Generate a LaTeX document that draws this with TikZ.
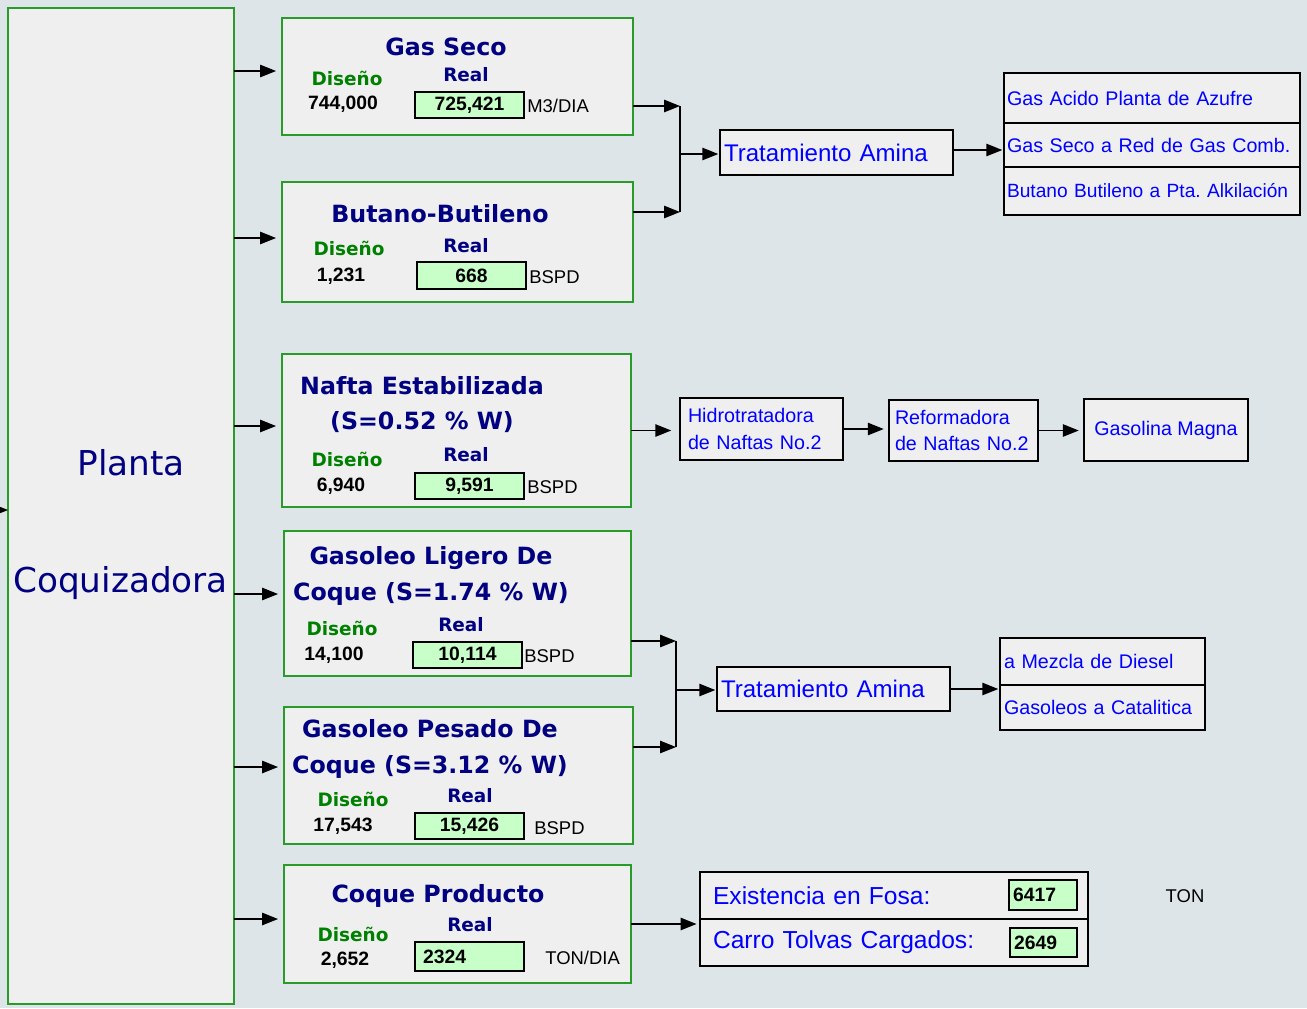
\documentclass[tikz,border=0pt]{standalone}
\usepackage{fontspec}
\setmainfont{DejaVu Sans}
\newfontfamily\arialfont{Liberation Sans}
\usetikzlibrary{arrows.meta}
\frenchspacing

\definecolor{bgcol}{RGB}{221,229,232}
\definecolor{boxgray}{RGB}{239,239,239}
\definecolor{boxgreen}{RGB}{40,155,40}
\definecolor{titlenavy}{RGB}{0,0,128}
\definecolor{labgreen}{RGB}{0,128,0}
\definecolor{valgreen}{RGB}{200,255,200}
\definecolor{linkblue}{RGB}{0,0,255}

\tikzset{
  plantbox/.style={draw=boxgreen,fill=boxgray,line width=1pt,inner sep=0pt,outer sep=0pt},
  valbox/.style={draw=black,fill=valgreen,line width=0.9pt,inner sep=0pt,minimum width=2.18cm,minimum height=0.52cm,font=\arialfont\bfseries\fontsize{11}{13}\selectfont},
  procbox/.style={draw=black,fill=boxgray,line width=0.8pt,inner ysep=0pt,inner xsep=0.08cm,outer sep=0pt,align=left,text=linkblue,font=\arialfont\fontsize{11.2}{15}\selectfont},
  prodtitle/.style={text=titlenavy,font=\bfseries\fontsize{13.5}{20}\selectfont,align=center,inner sep=0pt},
  dislbl/.style={text=labgreen,font=\bfseries\fontsize{10.5}{12}\selectfont,inner sep=0pt},
  reallbl/.style={text=titlenavy,font=\bfseries\fontsize{10.5}{12}\selectfont,inner sep=0pt},
  numlbl/.style={font=\arialfont\bfseries\fontsize{11}{13}\selectfont,inner sep=0pt},
  unitlbl/.style={anchor=west,font=\arialfont\fontsize{10.5}{12}\selectfont,inner sep=0pt},
  flow/.style={-{Triangle[length=9pt,width=7pt]},line width=0.8pt},
}

\begin{document}
\begin{tikzpicture}[x=0.02cm,y=-0.02cm]
% canvas
\fill[bgcol] (0,0) rectangle (1307,1008);
\useasboundingbox (0,0) rectangle (1307,1008);

% coker unit
\node[plantbox,minimum width=4.52cm,minimum height=19.92cm] (planta) at (121,506) {};
\node[text=titlenavy,font=\fontsize{19.5}{23}\selectfont,inner sep=0pt] (pl1) at (131,463) {Planta};
\node[text=titlenavy,font=\fontsize{19.5}{23}\selectfont,inner sep=0pt] (pl2) at (120.5,583) {Coquizadora};
\coordinate (feed) at (-15,510);
\draw[flow] (feed) -- (planta.west |- feed);

% gas seco
\node[plantbox,minimum width=7.02cm,minimum height=2.34cm] (gas) at (457.5,76.5) {};
\node[prodtitle] (gasT) at (446,47) {Gas Seco};
\node[dislbl] (gasD) at (347,78) {Diseño};
\node[reallbl] (gasR) at (466,75) {Real};
\node[numlbl] (gasN) at (343,104) {744,000};
\node[valbox] (gasV) at (469.5,105) {725,421};
\node[unitlbl] (gasU) at (527,106) {M3/DIA};

% butano-butileno
\node[plantbox,minimum width=7.02cm,minimum height=2.4cm] (but) at (457.5,242) {};
\node[prodtitle] (butT) at (440,214) {Butano-Butileno};
\node[dislbl] (butD) at (349,248) {Diseño};
\node[reallbl] (butR) at (466,246) {Real};
\node[numlbl] (butN) at (341,276) {1,231};
\node[valbox,minimum height=0.54cm] (butV) at (471.5,275.5) {668};
\node[unitlbl] (butU) at (529,277) {BSPD};

% nafta
\node[plantbox,minimum width=6.98cm,minimum height=3.06cm] (naf) at (456.5,430.5) {};
\node[prodtitle] (nafT) at (422,404.5) {Nafta Estabilizada\\(S=0.52 \% W)};
\node[dislbl] (nafD) at (347,459) {Diseño};
\node[reallbl] (nafR) at (466,455) {Real};
\node[numlbl] (nafN) at (341,486) {6,940};
\node[valbox] (nafV) at (469.5,486) {9,591};
\node[unitlbl] (nafU) at (527,487) {BSPD};

% gasoleo ligero
\node[plantbox,minimum width=6.94cm,minimum height=2.9cm] (glc) at (457.5,603.5) {};
\node[prodtitle] (glcT) at (431,576) {Gasoleo Ligero De\\Coque (S=1.74 \% W)};
\node[dislbl] (glcD) at (342,628) {Diseño};
\node[reallbl] (glcR) at (461,625) {Real};
\node[numlbl] (glcN) at (334,655) {14,100};
\node[valbox] (glcV) at (467.5,655) {10,114};
\node[unitlbl] (glcU) at (524,656) {BSPD};

% gasoleo pesado
\node[plantbox,minimum width=6.98cm,minimum height=2.74cm] (gpc) at (458.5,775.5) {};
\node[prodtitle] (gpcT) at (430,749) {Gasoleo Pesado De\\Coque (S=3.12 \% W)};
\node[dislbl] (gpcD) at (353,799) {Diseño};
\node[reallbl] (gpcR) at (470,796) {Real};
\node[numlbl] (gpcN) at (343,826) {17,543};
\node[valbox] (gpcV) at (469.5,826) {15,426};
\node[unitlbl] (gpcU) at (534,828) {BSPD};

% coque producto
\node[plantbox,minimum width=6.94cm,minimum height=2.36cm] (coq) at (457.5,924) {};
\node[prodtitle] (coqT) at (438,896) {Coque Producto};
\node[dislbl] (coqD) at (353,934) {Diseño};
\node[reallbl] (coqR) at (470,925) {Real};
\node[numlbl] (coqN) at (345,960) {2,652};
\node[valbox,minimum height=0.58cm,text width=1.86cm,inner xsep=0.16cm,align=left] (coqV) at (469.5,956.5) {2324};
\node[unitlbl] (coqU) at (545,958) {TON/DIA};

% feeds from the coker
\coordinate (gasin) at ([yshift=0.11cm]gas.west);
\coordinate (butin) at ([yshift=0.08cm]but.west);
\coordinate (nafin) at ([yshift=0.09cm]naf.west);
\coordinate (glcin) at ([yshift=0.19cm]glc.west);
\coordinate (gpcin) at ([yshift=0.17cm]gpc.west);
\coordinate (coqin) at ([yshift=0.1cm]coq.west);
\draw[flow,shorten >=0.12cm] (planta.east |- gasin) -- (gasin);
\draw[flow,shorten >=0.12cm] (planta.east |- butin) -- (butin);
\draw[flow,shorten >=0.12cm] (planta.east |- nafin) -- (nafin);
\draw[flow,shorten >=0.12cm] (planta.east |- glcin) -- (glcin);
\draw[flow,shorten >=0.12cm] (planta.east |- gpcin) -- (gpcin);
\draw[flow,shorten >=0.12cm] (planta.east |- coqin) -- (coqin);

% amine treating, gas side
\node[procbox,font=\arialfont\fontsize{13.7}{16}\selectfont,text width=4.5cm,minimum height=0.9cm] (trat1) at (836.5,152.5) {Tratamiento Amina};
\node[procbox,text width=5.8cm,inner xsep=0.06cm,minimum height=1.0cm] (d1a) at (1152,98) {Gas Acido Planta de Azufre};
\node[procbox,text width=5.8cm,inner xsep=0.06cm,minimum height=0.88cm] (d1b) at (1152,145) {Gas Seco a Red de Gas Comb.};
\node[procbox,font=\arialfont\fontsize{10.9}{15}\selectfont,text width=5.8cm,inner xsep=0.06cm,minimum height=0.96cm] (d1c) at (1152,191) {\mbox{Butano Butileno a Pta. Alkilación}};
\coordinate (j1a) at (680,106);
\coordinate (j1b) at (680,212);
\coordinate (j1) at (680,154);
\draw[flow] (gas.east |- j1a) -- (j1a);
\draw[flow] (but.east |- j1b) -- (j1b);
\draw[line width=0.8pt] (j1a) -- (j1b);
\draw[flow,shorten >=1pt] (j1) -- (trat1.west |- j1);
\draw[flow,shorten >=1pt] ([yshift=0.05cm]trat1.east) -- ([yshift=0.05cm]trat1.east -| d1b.west);

% naphtha train
\node[procbox,text width=2.94cm,inner xsep=0.16cm,minimum height=1.24cm] (hdt) at (761.5,429) {Hidrotratadora\\de Naftas No.2};
\node[procbox,text width=2.74cm,inner xsep=0.12cm,minimum height=1.22cm] (ref) at (963.5,430.5) {Reformadora\\de Naftas No.2};
\node[procbox,align=center,inner xsep=0pt,minimum width=3.28cm,minimum height=1.24cm] (mag) at (1166,430) {Gasolina Magna};
\draw[flow,shorten >=5pt] (naf.east) -- (hdt.west |- naf.east);
\draw[flow,shorten >=3pt] (hdt.east) -- (ref.west |- hdt.east);
\draw[flow,shorten >=3pt] (ref.east) -- (mag.west |- ref.east);

% amine treating, gas oil side
\node[procbox,font=\arialfont\fontsize{13.7}{16}\selectfont,text width=4.5cm,minimum height=0.88cm] (trat2) at (833.5,689) {Tratamiento Amina};
\node[procbox,text width=3.94cm,minimum height=0.94cm] (d2a) at (1102.5,661.5) {a Mezcla de Diesel};
\node[procbox,text width=3.94cm,minimum height=0.9cm] (d2b) at (1102.5,707.5) {Gasoleos a Catalitica};
\coordinate (j2a) at (676,641);
\coordinate (j2b) at (676,747);
\coordinate (j2) at (676,690);
\draw[flow] (glc.east |- j2a) -- (j2a);
\draw[flow] (gpc.east |- j2b) -- (j2b);
\draw[line width=0.8pt] (j2a) -- (j2b);
\draw[flow,shorten >=1pt] (j2) -- (trat2.west |- j2);
\draw[flow,shorten >=1pt] (trat2.east) -- (trat2.east -| d2a.west);

% coke handling
\node[procbox,font=\arialfont\fontsize{14}{16}\selectfont,text width=7.24cm,inner xsep=0.26cm,minimum height=0.94cm] (st1) at (894,895.5) {Existencia en Fosa:};
\node[procbox,font=\arialfont\fontsize{14}{16}\selectfont,text width=7.24cm,inner xsep=0.26cm,minimum height=0.94cm] (st2) at (894,942.5) {Carro Tolvas Cargados:};
\node[valbox,minimum width=1.36cm,minimum height=0.6cm,text width=1.2cm,inner xsep=0.08cm,align=left] (st1V) at (1043,895) {6417};
\node[valbox,minimum width=1.34cm,minimum height=0.58cm,text width=1.18cm,inner xsep=0.08cm,align=left] (st2V) at (1043.5,942.5) {2649};
\node[unitlbl,anchor=center] (stU) at (1185,896) {TON};
\draw[flow,shorten >=2pt] (coq.east) -- (coq.east -| st1.west);
\end{tikzpicture}
\end{document}
